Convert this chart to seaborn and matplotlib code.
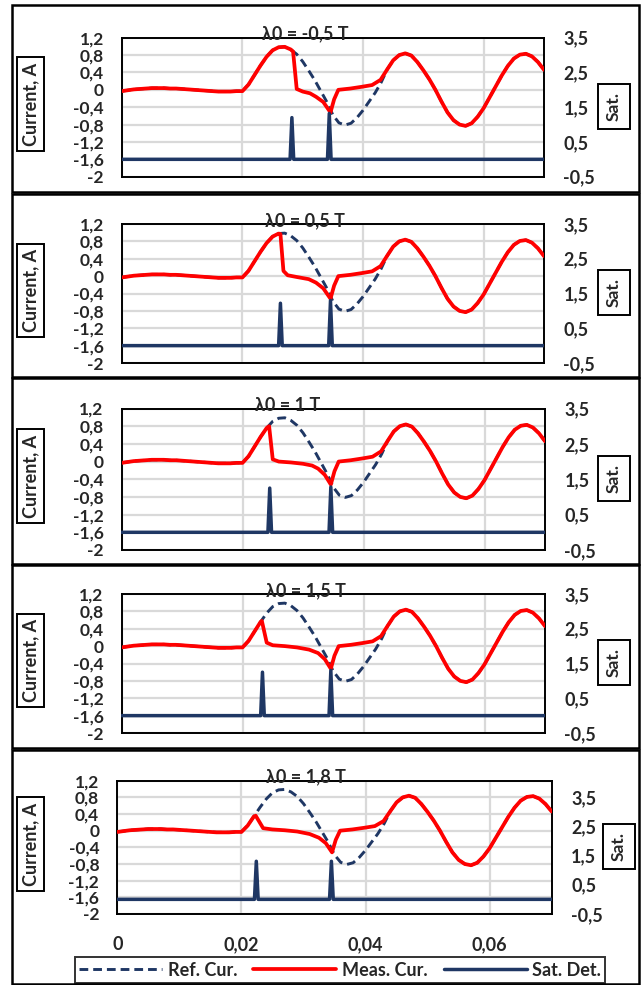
import numpy as np
import pandas as pd
import matplotlib
matplotlib.use("Agg")
import matplotlib.pyplot as plt
from matplotlib.patches import Rectangle
from matplotlib.lines import Line2D
import seaborn as sns

sns.set_theme(style="white")
plt.rcParams["font.family"] = ["Lato", "DejaVu Sans"]
plt.rcParams["font.weight"] = "bold"

# ---------------- data ----------------
# sampling time of the reference current (s), 1 ms step
t_ref = [i / 1000 for i in range(71)]
ref_cur = [-0.03, -0.01, 0.01, 0.02, 0.03, 0.04, 0.04, 0.04, 0.03, 0.03,
           0.02, 0.01, 0.00, -0.01, -0.02, -0.03, -0.04, -0.04, -0.04, -0.03,
           -0.03, 0.12, 0.34, 0.56, 0.76, 0.91, 0.98, 0.99, 0.93, 0.82,
           0.65, 0.44, 0.22, -0.03, -0.28, -0.58, -0.76, -0.81, -0.77, -0.64,
           -0.47, -0.27, -0.07, 0.17, 0.47, 0.68, 0.80, 0.84, 0.79, 0.64,
           0.45, 0.24, 0.00, -0.27, -0.52, -0.70, -0.80, -0.83, -0.77, -0.62,
           -0.42, -0.17, 0.08, 0.33, 0.55, 0.72, 0.81, 0.83, 0.77, 0.64,
           0.46]

titles = ["λ0 = -0,5 T", "λ0 = 0,5 T", "λ0 = 1 T", "λ0 = 1,5 T", "λ0 = 1,8 T"]

# measured current during the saturation window (t, value); outside it equals ref
meas_start = [0.028, 0.026, 0.024, 0.023, 0.022]
meas_t = [
    [0.0284, 0.0290, 0.0300, 0.0312, 0.0322, 0.0334, 0.0346],
    [0.0263, 0.0268, 0.0275, 0.0290, 0.0310, 0.0322, 0.0334, 0.0346],
    [0.0244, 0.0250, 0.0260, 0.0280, 0.0300, 0.0315, 0.0325, 0.0336, 0.0346],
    [0.0232, 0.0240, 0.0250, 0.0270, 0.0290, 0.0310, 0.0325, 0.0336, 0.0346],
    [0.0223, 0.0235, 0.0250, 0.0270, 0.0290, 0.0310, 0.0325, 0.0336, 0.0346],
]
meas_v = [
    [0.88, 0.02, -0.04, -0.08, -0.16, -0.28, -0.52],
    [0.97, 0.12, 0.02, -0.02, -0.07, -0.15, -0.28, -0.52],
    [0.80, 0.05, 0.00, -0.02, -0.05, -0.09, -0.16, -0.30, -0.52],
    [0.58, 0.08, 0.02, 0.00, -0.03, -0.08, -0.16, -0.30, -0.52],
    [0.36, 0.06, 0.03, 0.01, -0.02, -0.08, -0.17, -0.30, -0.52],
]
# recovery after second saturation (common to all cases)
tail_t = [0.0352, 0.0359, 0.0379, 0.0398, 0.0415, 0.0429]
tail_v = [-0.22, 0.00, 0.03, 0.07, 0.11, 0.23]
meas_join = 0.044

# saturation detection pulses (time, height)
sat_t = [[0.0282, 0.0344], [0.0263, 0.0346], [0.0245, 0.0346],
         [0.0233, 0.0346], [0.0224, 0.0345]]
sat_h = [[1.20, 1.32], [1.22, 1.30], [1.25, 1.28], [1.25, 1.30], [1.30, 1.30]]
sat_halfwidth = 0.0003

left_ticks = [1.2, 0.8, 0.4, 0, -0.4, -0.8, -1.2, -1.6, -2]
left_labels = ["1,2", "0,8", "0,4", "0", "-0,4", "-0,8", "-1,2", "-1,6", "-2"]
right_ticks = [3.5, 2.5, 1.5, 0.5, -0.5]
right_labels = ["3,5", "2,5", "1,5", "0,5", "-0,5"]
x_ticks = [0, 0.02, 0.04, 0.06]
x_labels = ["0", "0,02", "0,04", "0,06"]
legend_labels = ["Ref. Cur.", "Meas. Cur.", "Sat. Det."]

# ---------------- layout (pixels) ----------------
W, H = 644, 985
plot_px = [(121.8, 37.7, 544, 176.7), (121.8, 224, 544, 363), (121.5, 408.5, 545, 550),
           (121.5, 594, 545, 733), (117.3, 780.7, 551.7, 914)]
box_px = [(12, 5, 639, 192), (12, 194, 639, 377), (12, 378, 639, 564),
          (12, 565, 639, 748), (12, 750, 639, 984)]
title_x = [305, 305, 288, 306, 306]
right_top = [3.5, 3.5, 3.5, 3.5, 4.05]

RED = "#FF0000"
NAVY = "#1F3764"
GRID = "#D9D9D9"
FS = 12.5


def frect(x0, y0, x1, y1):
    return [x0 / W, 1 - y1 / H, (x1 - x0) / W, (y1 - y0) / H]


fig = plt.figure(figsize=(W / 100, H / 100), dpi=100)
fig.patch.set_facecolor("white")

for (x0, y0, x1, y1) in box_px:
    fig.add_artist(Rectangle((x0 / W, 1 - y1 / H), (x1 - x0) / W, (y1 - y0) / H,
                             transform=fig.transFigure, fill=False,
                             edgecolor="black", lw=1.8, zorder=0))

ref_df = pd.DataFrame({"t": t_ref, "v": ref_cur})

for i in range(5):
    x0, y0, x1, y1 = plot_px[i]
    ax = fig.add_axes(frect(x0, y0, x1, y1))
    ax.set_facecolor("white")

    # measured current series
    pre = ref_df[ref_df.t <= meas_start[i]]
    post = ref_df[ref_df.t >= meas_join]
    mt = list(pre.t) + meas_t[i] + tail_t + list(post.t)
    mv = list(pre.v) + meas_v[i] + tail_v + list(post.v)
    meas_df = pd.DataFrame({"t": mt, "v": mv})

    sns.lineplot(data=ref_df, x="t", y="v", ax=ax, color=NAVY, lw=2.1,
                 linestyle=(0, (3.0, 1.7)), estimator=None, sort=False, zorder=3)
    sns.lineplot(data=meas_df, x="t", y="v", ax=ax, color=RED, lw=2.7,
                 estimator=None, sort=False, zorder=4)

    ax.set_xlim(0, 0.07)
    ax.set_ylim(-2, 1.2)
    ax.set_yticks(left_ticks)
    ax.set_yticklabels(left_labels, fontsize=FS, fontweight="bold")
    ax.set_xticks(x_ticks)
    if i == 4:
        ax.set_xticklabels(x_labels, fontsize=FS + 0.5, fontweight="bold")
    else:
        ax.set_xticklabels([])
    ax.tick_params(axis="y", length=0, pad=13)
    ax.tick_params(axis="x", length=0, pad=16)
    ax.grid(True, color=GRID, lw=1.6)
    ax.set_axisbelow(True)
    ax.set_xlabel("")
    ax.set_ylabel("")
    for s in ax.spines.values():
        s.set_color("black")
        s.set_linewidth(1.4)
        s.set_visible(True)

    # saturation detection on secondary axis
    st = [0.0]
    sv = [0.0]
    for tp, hp in zip(sat_t[i], sat_h[i]):
        st += [tp - sat_halfwidth, tp, tp + sat_halfwidth]
        sv += [0.0, hp, 0.0]
    st.append(0.07)
    sv.append(0.0)
    sat_df = pd.DataFrame({"t": st, "v": sv})
    ax2 = ax.twinx()
    sns.lineplot(data=sat_df, x="t", y="v", ax=ax2, color=NAVY, lw=2.5,
                 estimator=None, sort=False)
    ax2.set_ylim(-0.5, right_top[i])
    ax2.set_yticks(right_ticks)
    ax2.set_yticklabels(right_labels, fontsize=FS + 0.5, fontweight="bold")
    ax2.tick_params(axis="y", length=0, pad=14)
    ax2.set_xlim(0, 0.07)
    ax2.set_ylabel("")
    ax2.grid(False)
    for s in ax2.spines.values():
        s.set_visible(False)

    # title
    fig.text(title_x[i] / W, 1 - (y0 + 2) / H, titles[i], ha="center", va="baseline",
             fontsize=FS + 0.5, fontweight="bold", zorder=10)
    # axis labels in boxes
    cy = (y0 + y1) / 2 - 3
    fig.text(30.5 / W, 1 - cy / H, "Current, A", rotation=90, ha="center", va="center",
             fontsize=FS + 0.5, fontweight="bold",
             bbox=dict(boxstyle="square,pad=0.3", fc="white", ec="black", lw=1.4))
    sx = 614 if i < 4 else 619
    fig.text(sx / W, 1 - (cy + 2) / H, "Sat.", rotation=90, ha="center", va="center",
             fontsize=FS, fontweight="bold",
             bbox=dict(boxstyle="square,pad=0.45", fc="white", ec="black", lw=1.4))

handles = [Line2D([], [], color=NAVY, lw=2.1, linestyle=(0, (3.0, 1.7))),
           Line2D([], [], color=RED, lw=2.7),
           Line2D([], [], color=NAVY, lw=2.5)]
leg = fig.legend(handles, legend_labels, loc="center", ncol=3,
                 bbox_to_anchor=(340 / W, 1 - 970 / H), frameon=True, fancybox=False,
                 edgecolor="black", handlelength=4.6, handletextpad=0.3, columnspacing=0.9,
                 borderpad=0.25, prop=dict(size=FS + 0.5, weight="bold"))
leg.get_frame().set_linewidth(1.4)

fig.savefig("out.png", dpi=100, facecolor="white")
